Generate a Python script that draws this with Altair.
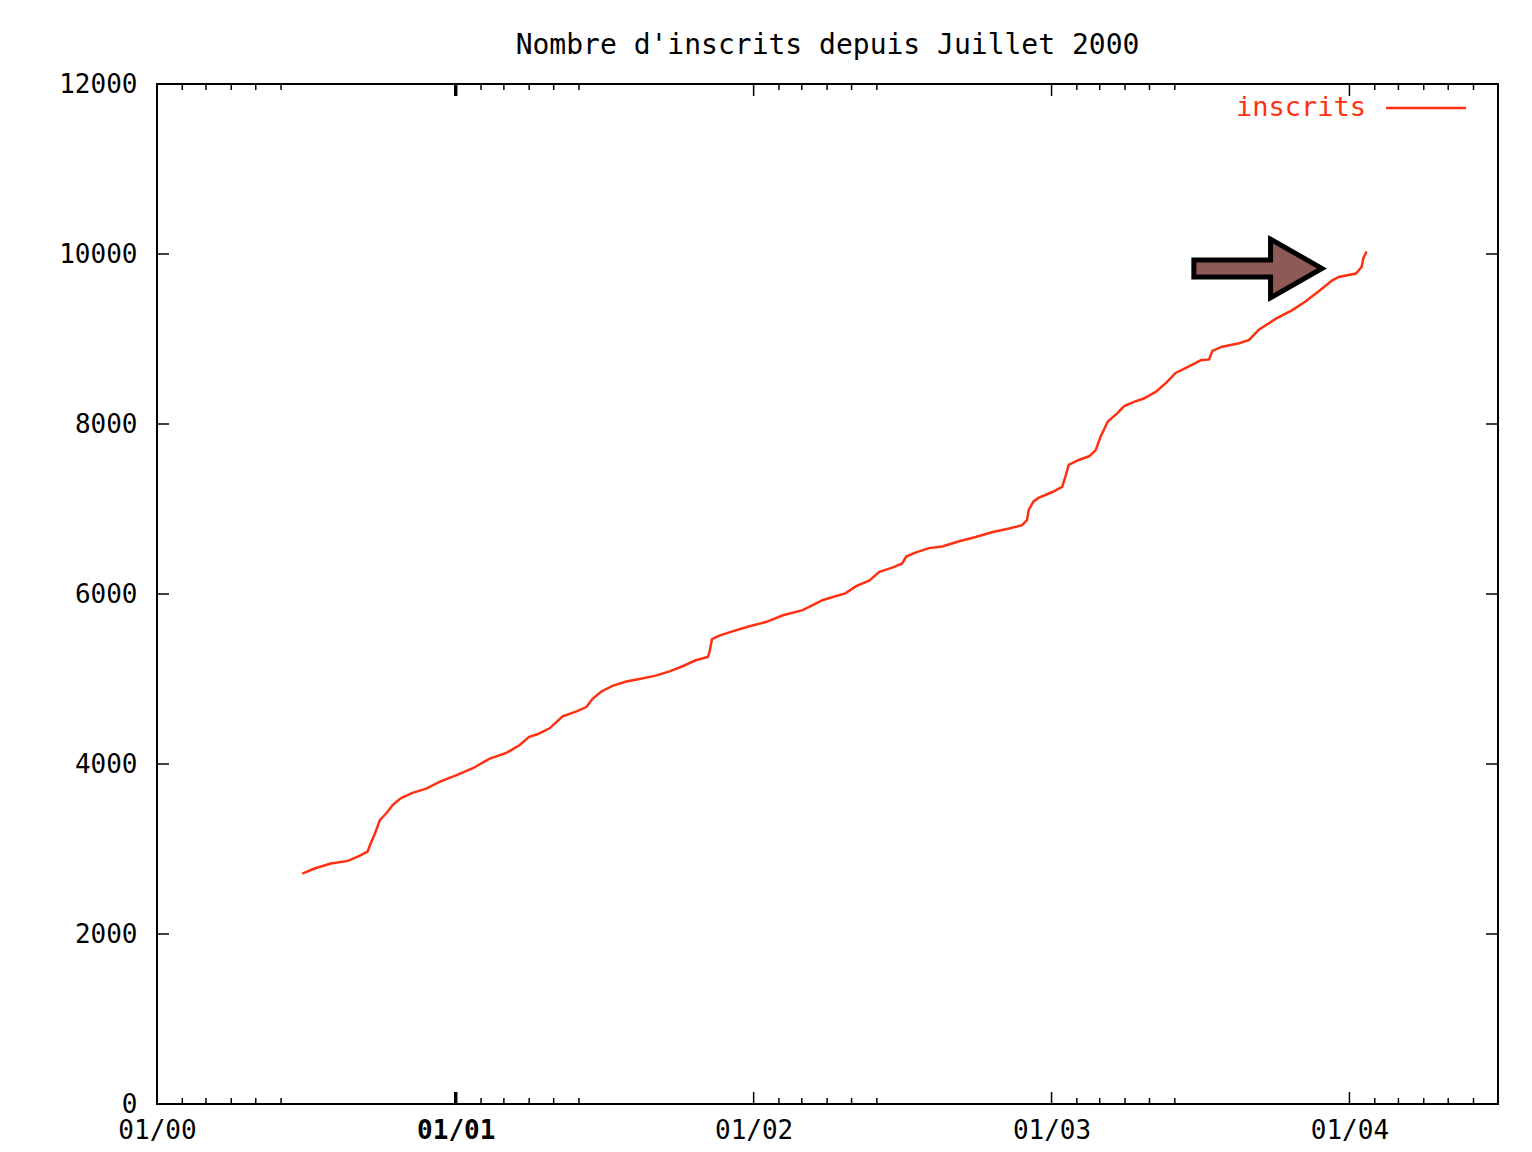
import altair as alt
import pandas as pd

# ---- data ----
dates = [
    "2000-06-27", "2000-07-12", "2000-08-01", "2000-08-22", "2000-09-05", "2000-09-15",
    "2000-09-19", "2000-09-24", "2000-09-30", "2000-10-08", "2000-10-16", "2000-10-26",
    "2000-11-09", "2000-11-26", "2000-12-12", "2001-01-02", "2001-01-22", "2001-02-11",
    "2001-03-04", "2001-03-20", "2001-04-01", "2001-04-11", "2001-04-26", "2001-05-12",
    "2001-05-29", "2001-06-10", "2001-06-18", "2001-06-28", "2001-07-12", "2001-07-29",
    "2001-08-14", "2001-09-03", "2001-09-20", "2001-10-06", "2001-10-22", "2001-11-06",
    "2001-11-08", "2001-11-11", "2001-11-20", "2001-12-06", "2001-12-27", "2002-01-16",
    "2002-02-06", "2002-03-02", "2002-03-27", "2002-04-24", "2002-05-06", "2002-05-23",
    "2002-06-04", "2002-06-20", "2002-07-02", "2002-07-07", "2002-07-19", "2002-08-04",
    "2002-08-20", "2002-09-10", "2002-09-30", "2002-10-21", "2002-11-10", "2002-11-26",
    "2002-12-02", "2002-12-04", "2002-12-10", "2002-12-16", "2003-01-02", "2003-01-14",
    "2003-01-18", "2003-01-22", "2003-02-04", "2003-02-16", "2003-02-24", "2003-03-02",
    "2003-03-11", "2003-03-23", "2003-03-31", "2003-04-12", "2003-04-24", "2003-05-09",
    "2003-05-21", "2003-06-02", "2003-06-19", "2003-07-03", "2003-07-13", "2003-07-17",
    "2003-07-29", "2003-08-19", "2003-08-31", "2003-09-12", "2003-10-03", "2003-10-23",
    "2003-11-08", "2003-11-24", "2003-12-11", "2003-12-19", "2004-01-09", "2004-01-16",
    "2004-01-18", "2004-01-22",
]
inscrits = [
    2710, 2770, 2830, 2860, 2920, 2970,
    3070, 3180, 3340, 3420, 3520, 3600,
    3660, 3710, 3790, 3870, 3950, 4060,
    4130, 4220, 4320, 4350, 4420, 4560,
    4620, 4670, 4770, 4850, 4920, 4970,
    5000, 5040, 5090, 5150, 5220, 5260,
    5320, 5470, 5510, 5560, 5620, 5670,
    5750, 5810, 5930, 6010, 6090, 6160,
    6260, 6310, 6360, 6440, 6490, 6540,
    6560, 6620, 6670, 6730, 6770, 6810,
    6870, 6990, 7090, 7130, 7200, 7260,
    7380, 7520, 7580, 7620, 7690, 7850,
    8030, 8130, 8210, 8260, 8300, 8380,
    8480, 8600, 8680, 8750, 8760, 8860,
    8910, 8950, 8990, 9110, 9240, 9340,
    9440, 9560, 9690, 9730, 9770, 9850,
    9950, 10030,
]

year_ticks = ["2000-01-01", "2001-01-01", "2002-01-01", "2003-01-01", "2004-01-01"]
minor_ticks = [
    "2000-02-01", "2000-03-01", "2000-04-01", "2000-05-01", "2000-06-01",
    "2001-02-01", "2001-03-01", "2001-04-01", "2001-05-01", "2001-06-01",
    "2002-02-01", "2002-03-01", "2002-04-01", "2002-05-01", "2002-06-01",
    "2003-02-01", "2003-03-01", "2003-04-01", "2003-05-01", "2003-06-01",
    "2004-02-01", "2004-03-01", "2004-04-01", "2004-05-01", "2004-06-01",
]
y_ticks = [0, 2000, 4000, 6000, 8000, 10000, 12000]
arrow_date = ["2003-09-12"]
arrow_value = [9830]
legend_label = ["inscrits"]

# ---- style / layout ----
W, H = 1341, 1020
FONT = "DejaVu Sans Mono"
RED = "#ff3012"
ARROW = "M-1,-0.13L0.18,-0.13L0.18,-0.45L0.97,0L0.18,0.45L0.18,0.13L-1,0.13Z"

df = pd.DataFrame({"d": dates, "v": inscrits})
df_year = pd.DataFrame({"d": year_ticks})
df_minor = pd.DataFrame({"d": minor_ticks})
df_y = pd.DataFrame({"v": y_ticks})
df_arrow = pd.DataFrame({"d": arrow_date, "v": arrow_value})
df_leg = pd.DataFrame({"label": legend_label})

x_scale = alt.Scale(
    type="utc",
    domain=[alt.DateTime(year=2000, month=1, date=1, utc=True),
            alt.DateTime(year=2004, month=7, date=1, utc=True)],
)
y_scale = alt.Scale(domain=[0, 12000], nice=False)

x_axis = alt.Axis(
    values=[alt.DateTime(year=y, month=1, date=1, utc=True) for y in (2000, 2001, 2002, 2003, 2004)],
    labelExpr="utcFormat(datum.value, '%m/%y')", title=None, ticks=False, tickSize=0,
    domain=False, grid=False, labelFont=FONT, labelFontSize=26, labelColor="black",
    labelPadding=13, labelFlush=False,
    labelFontWeight={"condition": {"test": "utcyear(datum.value) === 2001", "value": "bold"},
                     "value": "normal"},
)
y_axis = alt.Axis(
    values=y_ticks, format="d", title=None, ticks=False, tickSize=0, domain=False,
    grid=False, labelFont=FONT, labelFontSize=26, labelColor="black", labelPadding=20,
)

X = alt.X("d:T", scale=x_scale, axis=x_axis)
Y = alt.Y("v:Q", scale=y_scale, axis=y_axis)

line = alt.Chart(df).mark_line(color=RED, strokeWidth=2.5).encode(x=X, y=Y)

arrow = alt.Chart(df_arrow).mark_point(
    shape=ARROW, size=16900, filled=True, fill="#8f5956", stroke="black",
    strokeWidth=5, opacity=1, fillOpacity=1, strokeJoin="miter",
).encode(x=X, y=Y)

bold_w = alt.condition("utcyear(datum.d) === 2001", alt.value(3.5), alt.value(1.5))

maj_bottom = alt.Chart(df_year).mark_rule(color="black").encode(
    x=X, y=alt.value(H), y2=alt.value(H - 12), strokeWidth=bold_w)
maj_top = alt.Chart(df_year).mark_rule(color="black").encode(
    x=X, y=alt.value(0), y2=alt.value(12), strokeWidth=bold_w)
min_bottom = alt.Chart(df_minor).mark_rule(color="black", strokeWidth=1.5).encode(
    x=X, y=alt.value(H), y2=alt.value(H - 6))
min_top = alt.Chart(df_minor).mark_rule(color="black", strokeWidth=1.5).encode(
    x=X, y=alt.value(0), y2=alt.value(6))
y_left = alt.Chart(df_y).mark_rule(color="black", strokeWidth=1.5).encode(
    y=Y, x=alt.value(0), x2=alt.value(12))
y_right = alt.Chart(df_y).mark_rule(color="black", strokeWidth=1.5).encode(
    y=Y, x=alt.value(W - 12), x2=alt.value(W))

leg_text = alt.Chart(df_leg).mark_text(
    font=FONT, fontSize=27, color=RED, align="right", baseline="middle",
).encode(text="label:N", x=alt.value(1209), y=alt.value(24))
leg_line = alt.Chart(df_leg).mark_rule(color=RED, strokeWidth=2.5).encode(
    x=alt.value(1229), x2=alt.value(1309), y=alt.value(24))

chart = alt.layer(
    line, maj_bottom, maj_top, min_bottom, min_top, y_left, y_right, leg_line, leg_text, arrow,
).properties(
    width=W, height=H,
    background="white",
    title=alt.TitleParams(
        "Nombre d'inscrits depuis Juillet 2000", font=FONT, fontSize=28,
        fontWeight="normal", color="black", anchor="middle", offset=11,
    ),
    padding={"left": 149, "top": 76, "right": 20, "bottom": 40},
    autosize=alt.AutoSizeParams(type="none"),
).configure_view(
    stroke="black", strokeWidth=2,
)

chart.save("out.html", embed_options={"renderer": "svg", "actions": False})
